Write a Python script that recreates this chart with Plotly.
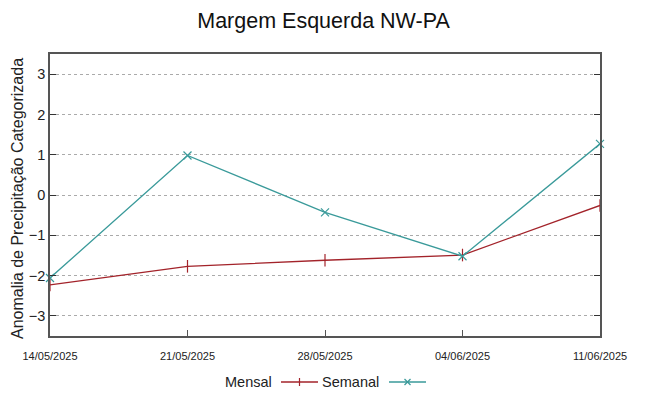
import plotly.graph_objects as go

dates = ["2025-05-14", "2025-05-21", "2025-05-28", "2025-06-04", "2025-06-11"]
tick_labels = ["14/05/2025", "21/05/2025", "28/05/2025", "04/06/2025", "11/06/2025"]
mensal = [-2.23, -1.77, -1.62, -1.49, -0.26]
semanal = [-2.06, 0.98, -0.43, -1.52, 1.27]

RED = "#a3232a"
TEAL = "#3a9a9a"

fig = go.Figure()
fig.add_trace(go.Scatter(x=dates, y=mensal, mode="lines+markers", name="Mensal",
                         line=dict(color=RED, width=1.3),
                         marker=dict(symbol="line-ns", size=9, line=dict(color=RED, width=1.2)),
                         cliponaxis=False, showlegend=False))
fig.add_trace(go.Scatter(x=dates, y=semanal, mode="lines+markers", name="Semanal",
                         line=dict(color=TEAL, width=1.3),
                         marker=dict(symbol="x-thin", size=8, line=dict(color=TEAL, width=1.2)),
                         cliponaxis=False, showlegend=False))

OFF = 8  # page body offset
FW, FH = 649, 396
L, R, T, B = 50, 600, 54, 336  # plot box in window pixels
W, H = R - L, B - T
def px(x):
    return (x - L) / W
def py(y):
    return (B - y) / H

fig.update_layout(
    width=FW, height=FH,
    margin=dict(l=L - OFF, r=FW - (R - OFF), t=T - OFF, b=FH - (B - OFF), autoexpand=False),
    paper_bgcolor="white", plot_bgcolor="white",
    font=dict(family="Liberation Sans, Arial, sans-serif", color="#222222"),
    title=dict(text="Margem Esquerda NW-PA", x=(323.5 - OFF) / FW, xanchor="center",
               y=1 - (20 - OFF) / FH, yanchor="middle",
               font=dict(size=21.5, color="#111111")),
    xaxis=dict(type="date", range=[dates[0], dates[-1]], tickvals=dates, ticktext=tick_labels,
               automargin=False, ticklabelstandoff=9,
               showgrid=False, zeroline=False, showline=True, linecolor="#555555", linewidth=1.5,
               mirror=True, ticks="inside", ticklen=6, tickcolor="#555555",
               tickfont=dict(family="Liberation Sans Narrow, Liberation Sans, sans-serif", size=11, color="#222222")),
    yaxis=dict(range=[-3.5, 3.5], tickvals=[-3, -2, -1, 0, 1, 2, 3], automargin=False,
               showgrid=True, gridcolor="#aaaaaa", griddash="dot", gridwidth=1,
               zeroline=False, showline=True, linecolor="#555555", linewidth=1.5,
               mirror="ticks", ticks="inside", ticklen=6, tickcolor="#333333",
               tickfont=dict(size=14.5, color="#222222")),
)

fig.add_annotation(x=px(17), y=py(199), xref="paper", yref="paper", text="Anomalia de Precipitação Categorizada",
                   textangle=-90, showarrow=False, xanchor="center", yanchor="middle",
                   font=dict(size=16, color="#222222"))

# manual legend (gnuplot style: text then sample)
ly = py(382)
fig.add_annotation(x=px(274), y=ly, xref="paper", yref="paper", text="Mensal", showarrow=False,
                   xanchor="right", yanchor="middle", font=dict(size=14.5, color="#222222"))
fig.add_shape(type="line", xref="paper", yref="paper", x0=px(281), x1=px(318), y0=ly, y1=ly,
              line=dict(color=RED, width=1.3))
fig.add_shape(type="line", xref="paper", yref="paper", x0=px(299.5), x1=px(299.5), y0=py(378), y1=py(386),
              line=dict(color=RED, width=1.2))
fig.add_annotation(x=px(381), y=ly, xref="paper", yref="paper", text="Semanal", showarrow=False,
                   xanchor="right", yanchor="middle", font=dict(size=14.5, color="#222222"))
fig.add_shape(type="line", xref="paper", yref="paper", x0=px(389), x1=px(426), y0=ly, y1=ly,
              line=dict(color=TEAL, width=1.3))
fig.add_shape(type="line", xref="paper", yref="paper", x0=px(404.5), x1=px(410.5), y0=py(379), y1=py(385),
              line=dict(color=TEAL, width=1.2))
fig.add_shape(type="line", xref="paper", yref="paper", x0=px(404.5), x1=px(410.5), y0=py(385), y1=py(379),
              line=dict(color=TEAL, width=1.2))

fig.write_html("out.html")
